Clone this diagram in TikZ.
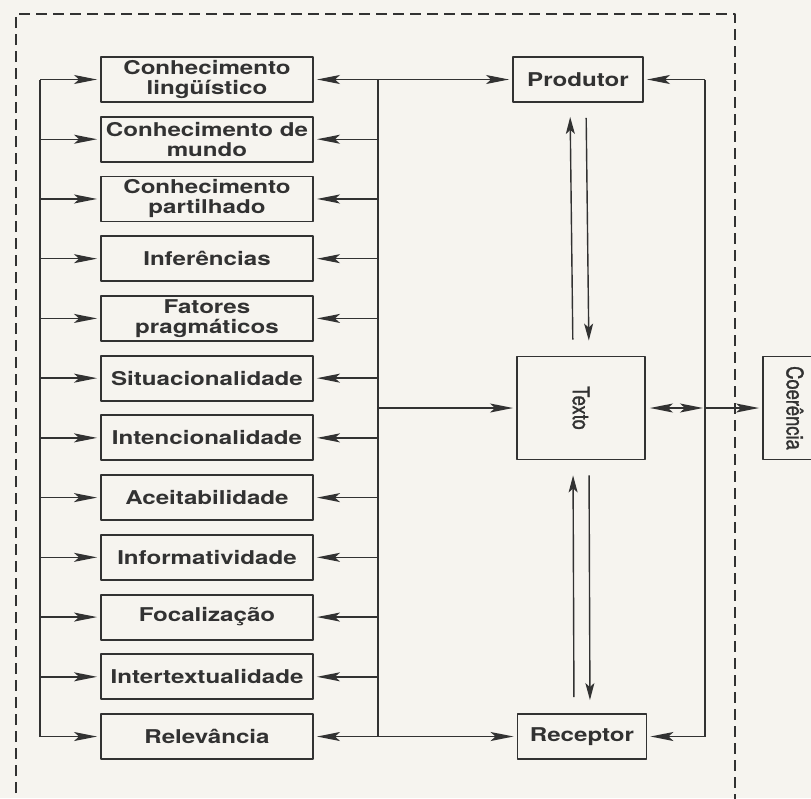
\documentclass[tikz,border=0pt]{standalone}
\usepackage{fontspec}
\usepackage{graphicx}
\setmainfont{TeX Gyre Heros}[FakeStretch=1.27]
\newfontfamily\rotfont{TeX Gyre Heros}[FakeStretch=0.8,FakeBold=1.2]
\usetikzlibrary{arrows.meta}
\definecolor{paper}{RGB}{246,244,239}
\definecolor{ink}{RGB}{50,50,50}
\begin{document}
\begin{tikzpicture}[x=1pt,y=-1pt,line join=round,
		>={Stealth[length=23pt,width=9pt,inset=5pt]},
		box/.style={draw=ink,line width=1.9pt,minimum width=212pt,minimum height=45pt,inner sep=0pt,align=center,text=ink,font=\bfseries\fontsize{19}{20}\selectfont},
		tallbox/.style={draw=ink,line width=1.9pt,minimum height=103pt,inner sep=0pt,text=ink,font=\rotfont\fontsize{23}{24}\selectfont},
		wire/.style={ink,line width=1.4pt},
		link/.style={wire,->,shorten >=3pt},
		vlink/.style={wire,-{Stealth[length=17pt,width=9pt,inset=4pt]}},
		frame/.style={ink,line width=1.3pt,dash pattern=on 11pt off 6pt}]
		\clip (0,0) rectangle (811,798);
		\fill[paper] (0,0) rectangle (811,798);
		\coordinate (lbus) at (40,0);
		\coordinate (rbus) at (378,0);
		\coordinate (rloop) at (705,0);
		\draw[frame] (16,810)--(16,14)--(735,14)--(735,810);
		\foreach \lab [count=\i] in {{Conhecimento\\lingüístico},{Conhecimento de\\mundo},{Conhecimento\\partilhado},Inferências,{Fatores\\pragmáticos},Situacionalidade,Intencionalidade,Aceitabilidade,Informatividade,Focalização,Intertextualidade,Relevância}
		\node[box] (f\i) at (207,{79.5+(\i-1)*59.73}) {\lab};
		\node[box,minimum width=130pt] (produtor) at (578,79.5) {Produtor};
		\node[box,minimum width=129pt] (receptor) at (582,736.5) {Receptor};
		\node[tallbox,minimum width=128pt] (texto) at (581,408) {\rotatebox{-90}{Texto}};
		\node[tallbox,minimum width=64pt] (coer) at (795,408) {\rotatebox{-90}{Coerência}};
		\draw[wire] (f1.west-|lbus)--(f12.west-|lbus);
		\draw[wire] (f1.east-|rbus)--(f12.east-|rbus);
		\foreach \i in {1,...,12}{
			\draw[link] (f\i.west-|lbus)--(f\i.west);
			\draw[link] (f\i.east-|rbus)--(f\i.east);
		}
		\draw[link] (produtor.west-|rbus)--(produtor.west);
		\draw[link] (texto.west-|rbus)--(texto.west);
		\draw[link] (receptor.west-|rbus)--(receptor.west);
		\draw[wire] (produtor.east-|rloop)--(receptor.east-|rloop);
		\draw[link] (produtor.east-|rloop)--(produtor.east);
		\draw[link] (receptor.east-|rloop)--(receptor.east);
		\draw[link,<->,shorten <=4pt,shorten >=2pt] (texto.east)--(texto.east-|rloop);
		\draw[link] (texto.east-|rloop)--(coer.west);
		\draw[vlink,shorten <=16pt,shorten >=14pt] ([xshift=-8pt]texto.north)--([xshift=-8pt]produtor.south);
		\draw[vlink,shorten <=15pt,shorten >=15pt] ([xshift=8pt]produtor.south)--([xshift=8pt]texto.north);
		\draw[vlink,shorten <=16pt,shorten >=15pt] ([xshift=-8pt]receptor.north)--([xshift=-8pt]texto.south);
		\draw[vlink,shorten <=15pt,shorten >=13pt] ([xshift=8pt]texto.south)--([xshift=8pt]receptor.north);
\end{tikzpicture}
\end{document}
